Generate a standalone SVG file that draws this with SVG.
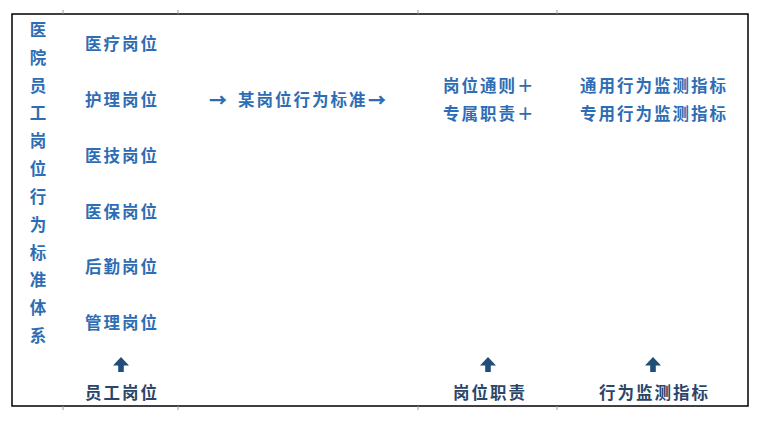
<svg xmlns="http://www.w3.org/2000/svg" width="767" height="423" viewBox="0 0 767 423">
<style>
.t{font-family:"Noto Sans CJK SC","Noto Sans",sans-serif;font-size:16.5px;font-weight:bold;fill:#2E6DB4;letter-spacing:2px;dominant-baseline:central}
.b{fill:#2B4568}
.v{text-anchor:middle;letter-spacing:0}
.ar{font-weight:900;font-size:18px}
.frame{fill:none;stroke:#000;stroke-width:1.5}
.tick{stroke:#999;stroke-width:1}
.up{fill:#1F4E79}
</style>
<defs>
<path id="uparrow" d="M0,0 L8,8.5 L2.8,8.5 L2.8,15 L-2.8,15 L-2.8,8.5 L-8,8.5 Z"/>
</defs>
<rect width="767" height="423" fill="#fff"/>
<g id="frame">
<rect class="frame" x="12" y="14" width="736" height="392"/>
<path class="tick" d="M63,10V14M178,10V14M418,10V14M557,10V14M63,406V410M178,406V410M418,406V410M557,406V410"/>
</g>
<g id="title">
<text class="t v" x="38" y="29">医</text>
<text class="t v" x="38" y="57">院</text>
<text class="t v" x="38" y="85">员</text>
<text class="t v" x="38" y="112">工</text>
<text class="t v" x="38" y="140">岗</text>
<text class="t v" x="38" y="168">位</text>
<text class="t v" x="38" y="196">行</text>
<text class="t v" x="38" y="224">为</text>
<text class="t v" x="38" y="252">标</text>
<text class="t v" x="38" y="279">准</text>
<text class="t v" x="38" y="307">体</text>
<text class="t v" x="38" y="335">系</text>
</g>
<g id="posts">
<text class="t" x="85" y="43">医疗岗位</text>
<text class="t" x="85" y="99">护理岗位</text>
<text class="t" x="85" y="155">医技岗位</text>
<text class="t" x="85" y="211">医保岗位</text>
<text class="t" x="85" y="266">后勤岗位</text>
<text class="t" x="85" y="322">管理岗位</text>
</g>
<g id="standard">
<text class="t" y="99"><tspan class="ar" x="209">→</tspan><tspan x="238">某岗位行为标准</tspan><tspan class="ar" x="368">→</tspan></text>
</g>
<g id="duties">
<text class="t" x="443" y="85">岗位通则＋</text>
<text class="t" x="443" y="113">专属职责＋</text>
</g>
<g id="indicators">
<text class="t" x="580" y="85">通用行为监测指标</text>
<text class="t" x="580" y="113">专用行为监测指标</text>
</g>
<g id="connectors" class="up">
<use href="#uparrow" x="121" y="357"/>
<use href="#uparrow" x="488" y="357"/>
<use href="#uparrow" x="653" y="357"/>
</g>
<g id="label-staff"><text class="t b" x="85" y="392">员工岗位</text></g>
<g id="label-duty"><text class="t b" x="453" y="392">岗位职责</text></g>
<g id="label-indicator"><text class="t b" x="599" y="392">行为监测指标</text></g>
</svg>
